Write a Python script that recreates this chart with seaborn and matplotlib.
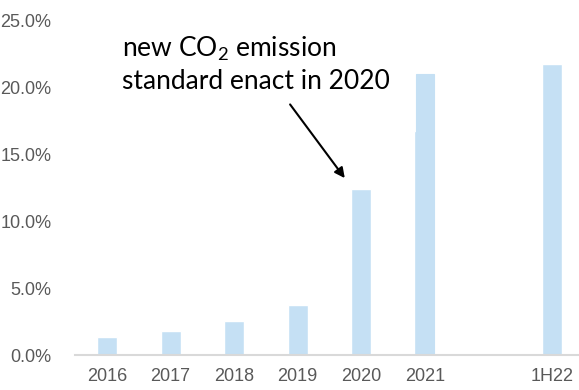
import matplotlib
matplotlib.use("Agg")
import matplotlib.pyplot as plt
import seaborn as sns
import pandas as pd
import numpy as np

categories = ["2016", "2017", "2018", "2019", "2020", "2021", " ", "1H22"]
share = [1.37, 1.81, 2.56, 3.75, 12.4, np.nan, np.nan, 21.7]
share_2021_prior = [np.nan, np.nan, np.nan, np.nan, np.nan, 16.7, np.nan, np.nan]
share_2021_revised = [np.nan, np.nan, np.nan, np.nan, np.nan, 20.97, np.nan, np.nan]
y_ticks = [0, 5, 10, 15, 20, 25]
y_tick_labels = ["0.0%", "5.0%", "10.0%", "15.0%", "20.0%", "25.0%"]
annotation = "new CO$_2$ emission\nstandard enact in 2020"

sns.set_theme(style="white")
plt.rcParams["font.family"] = ["Liberation Sans", "DejaVu Sans"]
plt.rcParams["mathtext.default"] = "regular"

df = pd.DataFrame({"cat": categories, "share": share,
                   "prior": share_2021_prior, "rev": share_2021_revised})

fig = plt.figure(figsize=(5.79, 3.90), dpi=100)
ax = fig.add_axes([0.1299, 0.0897, 0.8784, 0.859])

bar_color = "#C5E0F4"
sns.barplot(data=df, x="cat", y="share", order=categories, color=bar_color,
            saturation=1, width=0.315, ax=ax)
sns.barplot(data=df, x="cat", y="prior", order=categories, color=bar_color,
            saturation=1, width=0.33, ax=ax)
sns.barplot(data=df, x="cat", y="rev", order=categories, color=bar_color,
            saturation=1, width=0.285, edgecolor=bar_color, linewidth=0.8, ax=ax)

ax.set_ylim(0, 25)
ax.set_xlim(-0.5, len(categories) - 0.5)
ax.set_yticks(y_ticks)
ax.set_yticklabels(y_tick_labels)
ax.set_xlabel("")
ax.set_ylabel("")
for s in ["top", "right", "left"]:
    ax.spines[s].set_visible(False)
ax.spines["bottom"].set_color("#D9D9D9")
ax.spines["bottom"].set_linewidth(1.5)
ax.tick_params(axis="both", length=0, labelsize=13, colors="#595959")
ax.tick_params(axis="y", pad=17)
ax.tick_params(axis="x", pad=9)

ax.text(0.24, 23.9, annotation, ha="left", va="top", fontsize=19,
        family=["Lato", "DejaVu Sans"], color="black", linespacing=1.3)
ax.annotate("", xy=(3.74, 13.2), xytext=(2.88, 18.7),
            arrowprops=dict(arrowstyle="-|>", color="black", lw=1.5,
                            mutation_scale=15, shrinkA=0, shrinkB=0))

fig.savefig("out.png", dpi=100)
